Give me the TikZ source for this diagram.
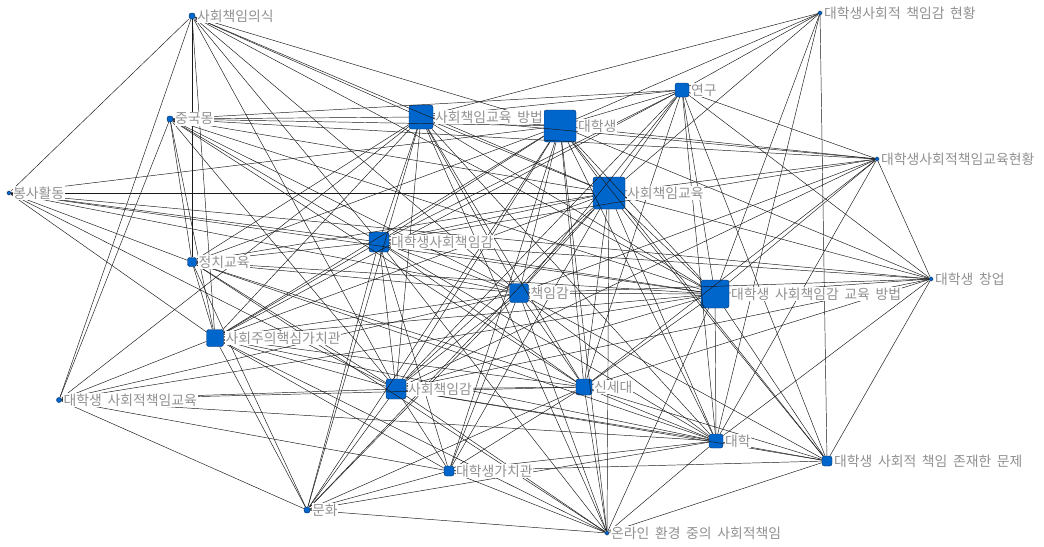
\documentclass[tikz,border=0pt]{standalone}
\usepackage{fontspec}
\setmainfont[WordSpace=1.8]{Noto Sans CJK KR}
\definecolor{kwblue}{RGB}{0,102,204}
\definecolor{kwedge}{RGB}{0,45,100}
\definecolor{kwgray}{RGB}{145,145,145}
\tikzset{
  kw/.style={draw=kwedge, line width=0.3pt, fill=kwblue, rounded corners=1.8pt, inner sep=0pt, minimum size=#1*0.75pt},
  kwlabel/.style={fill=white, text=kwgray, inner sep=0.5pt, anchor=west, font=\fontsize{10.4}{12}\selectfont},
  link/.style={line width=0.35pt, black!90}
}
\begin{document}
\begin{tikzpicture}[x=0.75pt,y=-0.75pt]
\useasboundingbox (0,0) rectangle (1044,546);
% keywords: name/x/y/size
\foreach \n/\x/\y/\s in {
  ssy/192/16/6,
  jgm/170/119/6,
  bsh/9/193/4,
  jcg/192/262/9,
  shg/215/338/17,
  dsg/59/400/5,
  mh/307/510/6,
  dgc/449/471/10,
  sck/396/389/20,
  ssd/584/387/16,
  cig/519/293/19,
  dh/716/441/14,
  onl/607/533/4,
  mj/827/461/10,
  cy/931/279/4,
  gh/877/159/4,
  ch/820/13/4,
  yg/682/90/14,
  sgb/421/117/24,
  dhs/560/126/32,
  sg/609/193/32,
  dsc/379/242/20,
  dgb/715/294/28}
  \node (\n) [kw=\s] at (\x,\y) {};
% co-occurrence links
\foreach \a/\b in {
  dhs/sg, dhs/dgb, dhs/sgb, dhs/sck, dhs/dsc, dhs/cig, dhs/ssd, dhs/yg, dhs/dh, dhs/shg,
  sg/dgb, sg/sgb, sg/sck, sg/dsc, sg/cig, sg/ssd, sg/yg, sg/dh, sg/shg,
  dgb/sgb, dgb/sck, dgb/dsc, dgb/cig, dgb/ssd, dgb/yg, dgb/dh, dgb/shg,
  sgb/sck, sgb/dsc, sgb/cig, sgb/ssd, sgb/yg, sgb/dh, sgb/shg,
  sck/dsc, sck/cig, sck/ssd, sck/yg, sck/dh, sck/shg,
  dsc/cig, dsc/ssd, dsc/yg, dsc/dh, dsc/shg,
  cig/ssd, cig/yg, cig/dh, cig/shg,
  ssd/yg, ssd/dh, ssd/shg,
  yg/dh, yg/shg,
  dh/shg,
  ssy/bsh, ssy/dsg, ssy/jcg, ssy/shg, ssy/dsc, ssy/dgb, ssy/sg, ssy/dhs, ssy/sck, ssy/cig, ssy/sgb,
  jgm/dsg, jgm/jcg, jgm/shg, jgm/yg, jgm/sgb, jgm/dhs, jgm/sg, jgm/dgb, jgm/cig, jgm/dsc, jgm/sck, jgm/ssd, jgm/gh,
  bsh/sg, bsh/dhs, bsh/cy, bsh/dgb, bsh/jcg, bsh/cig, bsh/shg, bsh/sck, bsh/dsc,
  jcg/shg, jcg/mh, jcg/sgb, jcg/dhs, jcg/sg, jcg/dsc, jcg/cig, jcg/dgb, jcg/sck, jcg/ssd, jcg/dh, jcg/onl,
  dsg/sgb, dsg/shg, dsg/dgb, dsg/cig, dsg/ssd, dsg/sck, dsg/dh, dsg/dgc, dsg/mh,
  mh/shg, mh/onl, mh/sck, mh/dsc, mh/cig, mh/sgb, mh/sg, mh/dhs, mh/ssd, mh/dh, mh/dgc,
  dgc/sck, dgc/dsc, dgc/ssd, dgc/cig, dgc/onl, dgc/dh, dgc/mj, dgc/shg, dgc/dhs, dgc/sg,
  onl/sck, onl/ssd, onl/cig, onl/dgb, onl/dh, onl/mj, onl/shg, onl/dsc, onl/sg, onl/dhs, onl/sgb,
  mj/dh, mj/dgb, mj/ch, mj/cy, mj/ssd, mj/sck, mj/cig, mj/sg, mj/dhs, mj/yg,
  cy/gh, cy/dgb, cy/dh, cy/yg, cy/sg, cy/dhs, cy/cig, cy/ssd, cy/sck, cy/dsc,
  gh/yg, gh/dhs, gh/sg, gh/sgb, gh/dgb, gh/dh, gh/cig, gh/ssd, gh/dsc, gh/sck,
  ch/sgb, ch/dhs, ch/yg, ch/sg, ch/dgb, ch/dh}
  \draw [link] (\a) -- (\b);
% labels on top of the links
\foreach \n/\t in {
  ssy/사회책임의식, jgm/중국몽, bsh/봉사활동, jcg/정치교육,
  shg/사회주의핵심가치관, dsg/대학생 사회적책임교육, mh/문화, dgc/대학생가치관,
  sck/사회책임감, ssd/신세대, cig/책임감, dh/대학,
  onl/온라인 환경 중의 사회적책임, mj/대학생 사회적 책임 존재한 문제, cy/대학생 창업,
  gh/대학생사회적책임교육현황, ch/대학생사회적 책임감 현황, yg/연구,
  sgb/사회책임교육 방법, dhs/대학생, sg/사회책임교육, dsc/대학생사회책임감,
  dgb/대학생 사회책임감 교육 방법}
  \node (\n-l) [kwlabel] at ([xshift=0.8pt]\n.east) {\t};
\end{tikzpicture}
\end{document}
